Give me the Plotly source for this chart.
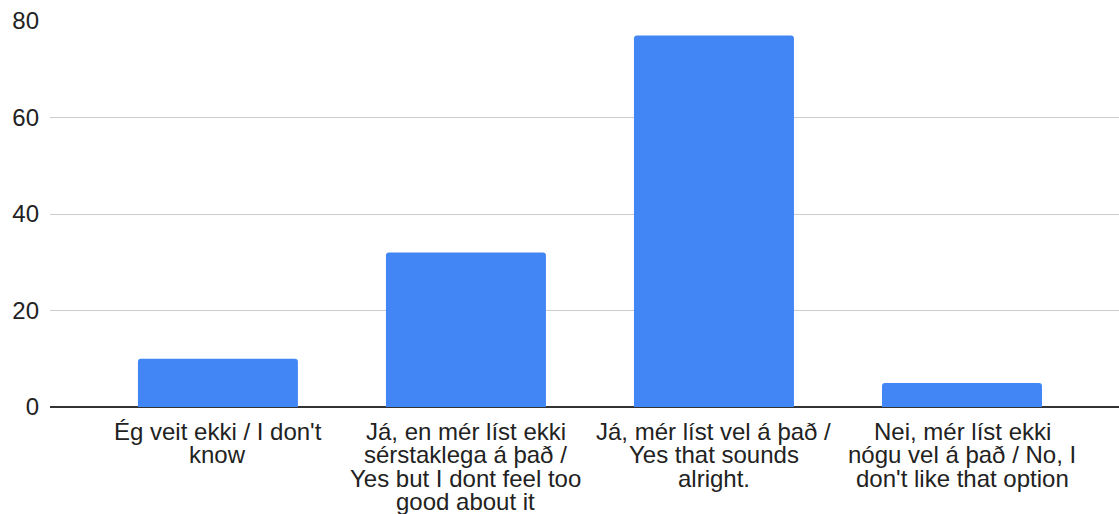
import plotly.graph_objects as go

categories = [
    "Ég veit ekki / I don't know",
    "Já, en mér líst ekki sérstaklega á það / Yes but I dont feel too good about it",
    "Já, mér líst vel á það / Yes that sounds alright.",
    "Nei, mér líst ekki nógu vel á það / No, I don't like that option",
]
label_lines = [
    ["Ég veit ekki / I don't", "know"],
    ["Já, en mér líst ekki", "sérstaklega á það /", "Yes but I dont feel too", "good about it"],
    ["Já, mér líst vel á það /", "Yes that sounds", "alright."],
    ["Nei, mér líst ekki", "nógu vel á það / No, I", "don't like that option"],
]
values = [10, 32, 77, 5]
y_ticks = [0, 20, 40, 60, 80]

FONT = "Liberation Sans, Arial, sans-serif"
FS = 24

fig = go.Figure()
fig.add_trace(go.Bar(
    x=categories, y=values,
    marker=dict(color="#4285F4", line=dict(width=0)),
    width=0.645,
    hoverinfo="x+y",
))

annotations = []
for cat, lines in zip(categories, label_lines):
    for i, line in enumerate(lines):
        annotations.append(dict(
            x=cat, xref="x", y=0, yref="paper",
            text=line, showarrow=False,
            xanchor="center", yanchor="middle",
            yshift=-(24 + i * 23.5),
            font=dict(family=FONT, size=FS, color="#222222"),
        ))

fig.update_layout(
    width=1119, height=514,
    margin=dict(l=50, r=0, t=21, b=107, autoexpand=False),
    paper_bgcolor="white", plot_bgcolor="white",
    showlegend=False,
    barcornerradius=3,
    annotations=annotations,
    font=dict(family=FONT, size=FS, color="#222222"),
    xaxis=dict(
        range=[-0.677, 3.633],
        showticklabels=False, showgrid=False, ticks="",
        showline=False, zeroline=False, fixedrange=True,
        automargin=False,
    ),
    yaxis=dict(
        range=[0, 80], tickvals=y_ticks,
        showgrid=True, gridcolor="#cccccc", gridwidth=1,
        zeroline=True, zerolinecolor="#333333", zerolinewidth=1.5,
        ticks="", ticklabelstandoff=10,
        tickfont=dict(family=FONT, size=FS, color="#222222"),
        showline=False, fixedrange=True,
        automargin=False,
    ),
)

fig.write_html(
    "out.html",
    config={"displayModeBar": False},
    post_script="document.body.style.margin='0';document.body.style.overflow='hidden';",
)
